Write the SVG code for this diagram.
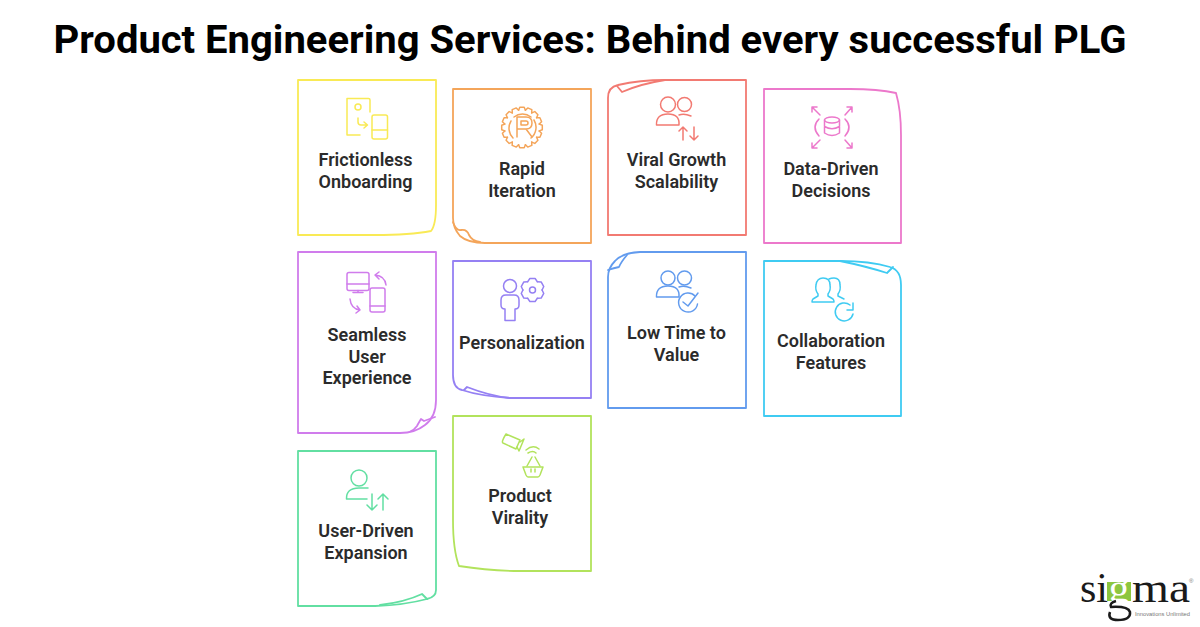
<svg xmlns="http://www.w3.org/2000/svg" width="1200" height="627" viewBox="0 0 1200 627">
<style>
.c{fill:none;stroke-width:1.8;stroke-linejoin:round;stroke-linecap:round}
.i{fill:none;stroke-width:1.5;stroke-linejoin:round;stroke-linecap:round}
.t{font-family:Roboto,"Liberation Sans",sans-serif;font-weight:600;font-size:18px;fill:#2b2b2b;text-anchor:middle}
.y{stroke:#f9ea55}.o{stroke:#f4a55a}.r{stroke:#f27a72}.p{stroke:#ec78cb}.m{stroke:#d07cec}.v{stroke:#9580f3}.b{stroke:#629bee}.a{stroke:#3fcbf2}.g{stroke:#62dfa2}.l{stroke:#b2e35c}
</style>
<defs>
<path id="tooth16" d="M-3.4 -17.2L-2.2 -20.300H2.200L3.400 -17.200"/>
<path id="tooth6" d="M-4.800 -8.300L-2.600 -11.500H2.600L4.800 -8.300"/>
</defs>
<rect width="1200" height="627" fill="#fff"/>
<text x="590" y="53" font-family="Roboto,'Liberation Sans',sans-serif" font-weight="700" font-size="38.500px" fill="#000" text-anchor="middle" textLength="1073" lengthAdjust="spacingAndGlyphs">Product Engineering Services: Behind every successful PLG</text>

<g id="node-frictionless">
<path class="c y" d="M298 80H436V205Q436 225 431 231Q410 235 375 235H298Z"/>
<g class="i y"><path d="M370 112V100Q370 98.500 368.500 98.500H347V135H360"/><rect x="372" y="115" width="15.500" height="24" rx="2"/><path d="M372 130H387.500"/><circle cx="358" cy="107" r="3"/><path d="M358 118V122Q358 125 361 125H367M364 122L367.500 125L364 128"/></g>
<text class="t"><tspan x="365.500" y="165.500">Frictionless</tspan><tspan x="365.500" y="187.500">Onboarding</tspan></text>
</g>
<g id="node-rapid">
<path class="c o" d="M453 89H591V243H485Q468 243 460 236Q453 228 453 218Z"/>
<path class="c o" d="M453 222Q456 231 461 230Q467 229 469 235Q472 241 480 242"/>
<g class="i o"><g transform="translate(522 127.500)"><use href="#tooth16"/><use href="#tooth16" transform="rotate(22.500)"/><use href="#tooth16" transform="rotate(45)"/><use href="#tooth16" transform="rotate(67.500)"/><use href="#tooth16" transform="rotate(90)"/><use href="#tooth16" transform="rotate(112.500)"/><use href="#tooth16" transform="rotate(135)"/><use href="#tooth16" transform="rotate(157.500)"/><use href="#tooth16" transform="rotate(180)"/><use href="#tooth16" transform="rotate(202.500)"/><use href="#tooth16" transform="rotate(225)"/><use href="#tooth16" transform="rotate(247.500)"/><use href="#tooth16" transform="rotate(270)"/><use href="#tooth16" transform="rotate(292.500)"/><use href="#tooth16" transform="rotate(315)"/><use href="#tooth16" transform="rotate(337.500)"/></g><path d="M514 117A14 14 0 0 1 531 117M534 120A14 14 0 0 1 531 138M513 138A14 14 0 0 1 511 121"/><path d="M517 137V117H526Q532 117 532 123Q532 129 526 129H517M526 129L532 137M521 125V121H526Q528 121 528 123Q528 125 526 125Z"/></g>
<text class="t"><tspan x="522" y="174.500">Rapid</tspan><tspan x="522" y="196.500">Iteration</tspan></text>
</g>
<g id="node-viral">
<path class="c r" d="M608 235V98Q608 87 618 85Q640 80 665 80H746V235Z"/>
<path class="c r" d="M617 86L622 92Q640 84 665 80"/>
<g class="i r"><circle cx="668" cy="104.500" r="7.500"/><circle cx="684.500" cy="104.500" r="7"/><path d="M656.500 125Q656 114 668 114Q680 114 679 125Z"/><path d="M679 115Q684 113 691 116"/><path d="M683 140V127M679 131L683 127L687 131M694 127V140M690 136L694 140L698 136"/></g>
<text class="t"><tspan x="676.500" y="165.500">Viral Growth</tspan><tspan x="676.500" y="187.500">Scalability</tspan></text>
</g>
<g id="node-data">
<path class="c p" d="M764 89H850Q878 89 896 93Q901 110 901 135V243H764Z"/>
<g class="i p"><ellipse cx="832" cy="120" rx="7.500" ry="3"/><path d="M824.500 120V133Q832 138 839.500 133V120M824.500 126.500Q832 131 839.500 126.500"/><path d="M819 119Q811 127 819 136M845 119Q853 127 845 136"/><path d="M812 107L820 115M812 112V107H817M852 107L845 115M847 107H852V112M812 148L820 140M812 143V148H817M852 148L845 140M852 143V148H847"/></g>
<text class="t"><tspan x="831" y="174.500">Data-Driven</tspan><tspan x="831" y="196.500">Decisions</tspan></text>
</g>
<g id="node-seamless">
<path class="c m" d="M298 252H436V400Q436 417 425 425Q415 433 400 433H298Z"/>
<path class="c m" d="M435 417L424 421L421 419Q418 424 417 426Q414 430 411 431"/>
<g class="i m"><rect x="347" y="272.500" width="22" height="18" rx="2"/><path d="M347 284H369M358 290.500V292.500M353 292.500H363"/><rect x="370" y="288" width="15" height="24" rx="2"/><path d="M370 306H385"/><path d="M386 285Q385 276 375 275M379 272L375 275L379 279M350 299Q351 309 360 310M357 306L360 310L356 313"/></g>
<text class="t"><tspan x="367" y="340.500">Seamless</tspan><tspan x="367" y="362.500">User</tspan><tspan x="367" y="384">Experience</tspan></text>
</g>
<g id="node-personalization">
<path class="c v" d="M453 261H591V398H510Q480 396 462 390Q453 388 453 375Z"/>
<path class="c v" d="M464 390L467 387Q490 396 510 398"/>
<g class="i v"><circle cx="510" cy="286" r="6.500"/><path d="M505 320.500V309Q501 309 501 305V300Q501 295 506 295H514Q519 295 519 300V305Q519 309 515 309V320.500Z"/><g transform="translate(532.500 290)"><use href="#tooth6"/><use href="#tooth6" transform="rotate(60)"/><use href="#tooth6" transform="rotate(120)"/><use href="#tooth6" transform="rotate(180)"/><use href="#tooth6" transform="rotate(240)"/><use href="#tooth6" transform="rotate(300)"/></g><circle cx="532.500" cy="290" r="3"/></g>
<text class="t"><tspan x="522" y="349">Personalization</tspan></text>
</g>
<g id="node-low">
<path class="c b" d="M608 408V277Q608 268 615 261Q622 253 640 252H746V408Z"/>
<path class="c b" d="M608 270Q614 268 619 267Q621 262 627 255"/>
<g class="i b"><circle cx="668" cy="278" r="7"/><circle cx="684.500" cy="278" r="7"/><path d="M656.500 297Q656 286 668 286Q680 286 679 297Z"/><path d="M679 287Q684 285 691 288"/><path d="M695 296A9.500 9.500 0 1 0 697.500 304"/><path d="M683 302L688 306L698 293"/></g>
<text class="t"><tspan x="676.500" y="338.500">Low Time to</tspan><tspan x="676.500" y="360.500">Value</tspan></text>
</g>
<g id="node-collaboration">
<path class="c a" d="M764 261H840Q870 261 890 267Q901 270 901 285V416H764Z"/>
<path class="c a" d="M840 261Q865 266 887 273L893 267"/>
<g class="i a"><path d="M818 294Q815 290 816 285Q817 278 823 278Q830 278 830 285Q831 290 828 294V296L833 299Q834 300 834 302H812Q812 300 813 299L818 296Z"/><path d="M829 279Q831 278 834 278Q840 278 840 285Q841 290 838 294V296L844 299"/><path d="M853 314A9 9 0 1 1 850 305M853 303V310H847"/></g>
<text class="t"><tspan x="831" y="346.500">Collaboration</tspan><tspan x="831" y="368.500">Features</tspan></text>
</g>
<g id="node-user-driven">
<path class="c g" d="M298 451H436V590Q436 597 427 599Q405 605 375 606H298Z"/>
<path class="c g" d="M380 605Q405 602 422 594L427 599"/>
<g class="i g"><circle cx="359" cy="478" r="8"/><path d="M346.500 499Q346 488 359 488H368M346.500 499H367"/><path d="M372 494V510M367 505L372 510L377 505M383 510V494M378 499L383 494L388 499"/></g>
<text class="t"><tspan x="366" y="536.500">User-Driven</tspan><tspan x="366" y="558.500">Expansion</tspan></text>
</g>
<g id="node-virality">
<path class="c l" d="M453 416H591V571H520Q490 571 459 566Q453 550 453 520Z"/>
<g class="i l"><path d="M506 434L520 440L516 449L503 443Q501 442 506 434Z"/><path d="M520 442L524 439L519 451L517 447"/><path d="M526 450Q533 444 539 449M528 453Q533 450 536 453"/><path d="M532 457L527 466M535 457L540 466"/><path d="M523 467H543L540 475Q539 477 538 477H528Q527 477 526 475Z"/><path d="M531 469V472M535 469V472"/></g>
<text class="t"><tspan x="520" y="502">Product</tspan><tspan x="520" y="523.500">Virality</tspan></text>
</g>

<g id="logo">
<rect x="1107" y="582" width="24" height="19" fill="#8cc63f"/>
<text y="602" font-family="'Liberation Serif',serif" font-size="42px" fill="#1a1a1a"><tspan x="1080">si</tspan><tspan x="1108.500" fill="#fff">g</tspan><tspan x="1132" textLength="58" lengthAdjust="spacingAndGlyphs">ma</tspan></text>
<path d="M1116 601Q1109 603 1111 607Q1128 606 1130 612Q1131 620 1118 620Q1107 620 1110 612" fill="none" stroke="#1a1a1a" stroke-width="2.500"/>
<text x="1135" y="616" font-family="'Liberation Sans',sans-serif" font-size="6px" fill="#777" textLength="55" lengthAdjust="spacingAndGlyphs">Innovations Unlimited</text>
<text x="1189" y="583" font-family="'Liberation Sans',sans-serif" font-size="6px" fill="#777">®</text>
</g>
</svg>
